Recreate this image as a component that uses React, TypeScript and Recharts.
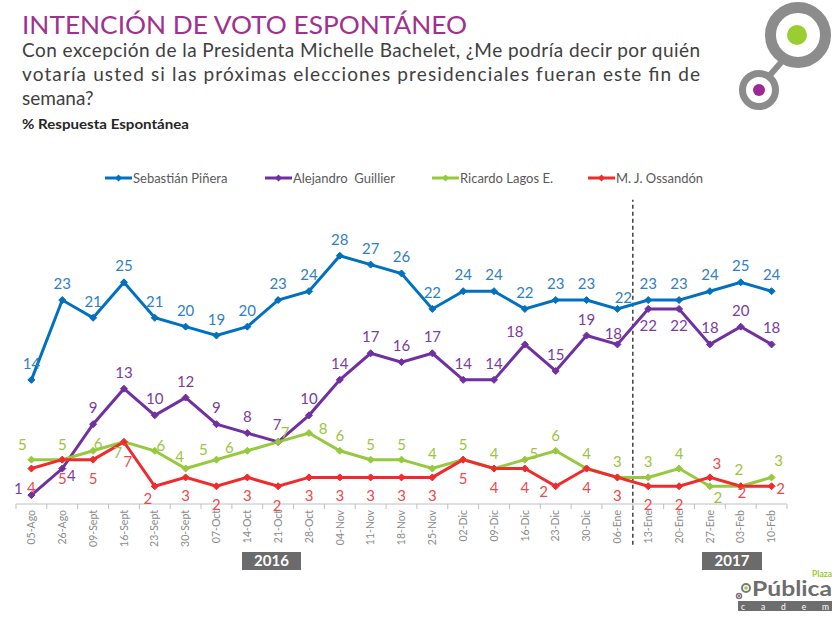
import { LineChart, Line, XAxis, YAxis, ReferenceLine, LabelList, Legend } from 'recharts';

const fechas = [
  '05-Ago', '26-Ago', '09-Sept', '16-Sept', '23-Sept', '30-Sept', '07-Oct', '14-Oct', '21-Oct',
  '28-Oct', '04-Nov', '11-Nov', '18-Nov', '25-Nov', '02-Dic', '09-Dic', '16-Dic', '23-Dic',
  '30-Dic', '06-Ene', '13-Ene', '20-Ene', '27-Ene', '03-Feb', '10-Feb',
];

const pinera = [14, 23, 21, 25, 21, 20, 19, 20, 23, 24, 28, 27, 26, 22, 24, 24, 22, 23, 23, 22, 23, 23, 24, 25, 24];
const guillier = [1, 4, 9, 13, 10, 12, 9, 8, 7, 10, 14, 17, 16, 17, 14, 14, 18, 15, 19, 18, 22, 22, 18, 20, 18];
const lagos = [5, 5, 6, 7, 6, 4, 5, 6, 7, 8, 6, 5, 5, 4, 5, 4, 5, 6, 4, 3, 3, 4, 2, 2, 3];
const ossandon = [4, 5, 5, 7, 2, 3, 2, 3, 2, 3, 3, 3, 3, 3, 5, 4, 4, 2, 4, 3, 2, 2, 3, 2, 2];

const series = [
  { key: 'pin', name: 'Sebastián Piñera', color: '#0070c0', label: '#2f7fc4' },
  { key: 'gui', name: 'Alejandro  Guillier', color: '#7030a0', label: '#7a3c9e' },
  { key: 'lag', name: 'Ricardo Lagos E.', color: '#96c93d', label: '#9cc43f' },
  { key: 'oss', name: 'M. J. Ossandón', color: '#ef2b2d', label: '#ec4a4c' },
];

const data = fechas.map((f, i) => ({
  idx: i,
  fecha: f,
  pin: pinera[i],
  gui: guillier[i],
  lag: lagos[i],
  oss: ossandon[i],
}));

// label placement (dx, dy) relative to the point
const defaultOffset: Record<string, [number, number]> = {
  pin: [0, -17],
  gui: [0, -17],
  lag: [0, -16],
  oss: [0, 18],
};
const labelOffsets: Record<string, Record<number, [number, number]>> = {
  pin: { 19: [6, -12] },
  gui: { 0: [-13, -7], 1: [9, 6], 8: [-1, -18], 16: [-10, -13], 19: [-4, -11], 20: [0, 16], 21: [0, 16] },
  lag: {
    0: [-9, -16], 2: [5, -8], 3: [-6, 10], 4: [6, -6], 5: [-6, -13], 6: [-13, -11],
    7: [-18, -4], 8: [7, -10], 9: [14, -5], 16: [9, -7], 22: [8, 11], 23: [-2, -17], 24: [7, -17],
  },
  oss: { 3: [4, 19], 4: [-7, 12], 8: [-1, 19], 17: [-12, 5], 22: [7, -14], 23: [1, 6], 24: [9, 2] },
};

// legend item left edges, relative to the legend box
const legendX = [0, 160, 327, 483];

const ticks: number[] = [];
for (let i = -0.5; i <= fechas.length - 0.5; i += 0.5) ticks.push(i);

const font = 'Lato, "Open Sans", sans-serif';

const AxisTick = (props: any) => {
  const { x, y, payload } = props;
  const v = payload.value;
  if (Number.isInteger(v)) {
    return (
      <text
        transform={`translate(${x},${y}) rotate(-90)`}
        textAnchor="end"
        dy="0.35em"
        fontSize={10.5}
        fontFamily={font}
        fill="#8a8a8a">
        {fechas[v]}
      </text>
    );
  }
  return <line x1={x} x2={x} y1={y - 6} y2={y - 1} stroke="#bfbfbf" strokeWidth={1} />;
};

const Diamond = (color: string) => (props: any) => {
  const { cx, cy } = props;
  if (cx == null || cy == null) return null;
  const r = 3.5;
  return (
    <polygon
      points={`${cx},${cy - r} ${cx + r},${cy} ${cx},${cy + r} ${cx - r},${cy}`}
      fill={color}
      stroke={color}
    />
  );
};

const makeLabel = (key: string, color: string) => (props: any) => {
  const { x, y, value, index } = props;
  const [dx, dy] = labelOffsets[key][index] ?? defaultOffset[key];
  return (
    <text
      x={x + dx}
      y={y + dy}
      textAnchor="middle"
      dominantBaseline="central"
      fontSize={15}
      fontFamily={font}
      fill={color}>
      {value}
    </text>
  );
};

const LegendContent = () => (
  <div style={{ position: 'relative', height: 16, fontFamily: font, fontSize: 13, color: '#595959', whiteSpace: 'pre' }}>
    {series.map((s, i) => (
      <div key={s.key} style={{ position: 'absolute', left: legendX[i], top: 0, display: 'flex', alignItems: 'center' }}>
        <svg width={28} height={10}>
          <line x1={0} x2={27} y1={5} y2={5} stroke={s.color} strokeWidth={3} />
          <polygon points="13.5,1.5 17,5 13.5,8.5 10,5" fill={s.color} />
        </svg>
        <span>{s.name}</span>
      </div>
    ))}
  </div>
);

const Header = () => (
  <svg width={840} height={625} style={{ position: 'absolute', left: 0, top: 0, pointerEvents: 'none' }}>
    <text x={22} y={34} fontFamily={font} fontSize={25} fill="#a0318e" textLength={445} lengthAdjust="spacingAndGlyphs">
      INTENCIÓN DE VOTO ESPONTÁNEO
    </text>
    <text x={22} y={57} fontFamily={font} fontSize={19} fill="#404040" textLength={678} lengthAdjust="spacing">
      Con excepción de la Presidenta Michelle Bachelet, ¿Me podría decir por quién
    </text>
    <text x={22} y={81} fontFamily={font} fontSize={19} fill="#404040" textLength={678} lengthAdjust="spacing">
      votaría usted si las próximas elecciones presidenciales fueran este fin de
    </text>
    <text x={22} y={105} fontFamily={font} fontSize={19} fill="#404040">
      semana?
    </text>
    <text x={22} y={129} fontFamily={font} fontSize={13} fontWeight="bold" fill="#262626" textLength={167} lengthAdjust="spacingAndGlyphs">
      % Respuesta Espontánea
    </text>

    {/* top-right logo */}
    <line x1={770} y1={75} x2={785} y2={58} stroke="#8c8c8c" strokeWidth={6} />
    <circle cx={798} cy={35} r={27.5} fill="none" stroke="#8c8c8c" strokeWidth={11} />
    <circle cx={797} cy={35} r={10} fill="#9acd32" />
    <circle cx={759} cy={90} r={16.5} fill="none" stroke="#8c8c8c" strokeWidth={7} />
    <circle cx={759} cy={90} r={6} fill="#9b2a96" />

    {/* year boxes */}
    <rect x={242} y={552} width={59} height={18} fill="#6b6b6b" />
    <text x={271.5} y={566} textAnchor="middle" fontFamily={font} fontSize={15} fontWeight="bold" fill="#fff">2016</text>
    <rect x={702} y={552} width={60} height={18} fill="#6b6b6b" />
    <text x={732} y={566} textAnchor="middle" fontFamily={font} fontSize={15} fontWeight="bold" fill="#fff">2017</text>

    {/* bottom-right logo */}
    <circle cx={746} cy={588} r={4} fill="none" stroke="#7a7a7a" strokeWidth={2} />
    <circle cx={746} cy={588} r={1.8} fill="#9acd32" />
    <circle cx={739} cy={596} r={2.5} fill="none" stroke="#7a7a7a" strokeWidth={1.5} />
    <circle cx={739} cy={596} r={1} fill="#9b2a96" />
    <text x={752} y={596} fontFamily={font} fontSize={20} fontWeight="bold" fill="#6d6d6d" textLength={80} lengthAdjust="spacingAndGlyphs">
      Pública
    </text>
    <text x={832} y={577} textAnchor="end" fontFamily={font} fontSize={8.5} fontWeight="bold" fill="#9acd32">Plaza</text>
    <rect x={738} y={601} width={94} height={10} fill="#6d6d6d" />
    <text x={741} y={609.5} fontFamily={font} fontSize={8.5} fill="#fff" textLength={88} lengthAdjust="spacing">
      c a d e m
    </text>
  </svg>
);

export default function App() {
  return (
    <div style={{ position: 'absolute', left: 0, top: 0, width: 840, height: 625, background: '#fff', overflow: 'hidden' }}>
      <Header />
      <div style={{ position: 'absolute', left: 0, top: 0 }}>
        <LineChart width={840} height={625} data={data} margin={{ top: 238, right: 53, bottom: 0, left: 16 }}>
          <XAxis
            dataKey="idx"
            type="number"
            domain={[-0.5, fechas.length - 0.5]}
            ticks={ticks}
            interval={0}
            tick={<AxisTick />}
            tickLine={false}
            tickSize={0}
            tickMargin={6}
            axisLine={{ stroke: '#bfbfbf' }}
            height={121}
          />
          <YAxis hide width={0} domain={[0, 30]} />
          <Legend
            layout="horizontal"
            verticalAlign="middle"
            align="center"
            content={<LegendContent />}
            wrapperStyle={{ top: 170, left: 105, width: 700 }}
          />
          <ReferenceLine
            segment={[
              { x: fechas.length - 5.5, y: -4.6 },
              { x: fechas.length - 5.5, y: 34.3 },
            ]}
            ifOverflow="visible"
            stroke="#404040"
            strokeWidth={1.5}
            strokeDasharray="4 3"
          />
          {series.map((s) => (
            <Line
              key={s.key}
              dataKey={s.key}
              name={s.name}
              type="linear"
              stroke={s.color}
              strokeWidth={3}
              dot={Diamond(s.color)}
              activeDot={false}
              isAnimationActive={false}>
              <LabelList dataKey={s.key} content={makeLabel(s.key, s.label)} />
            </Line>
          ))}
        </LineChart>
      </div>
    </div>
  );
}
